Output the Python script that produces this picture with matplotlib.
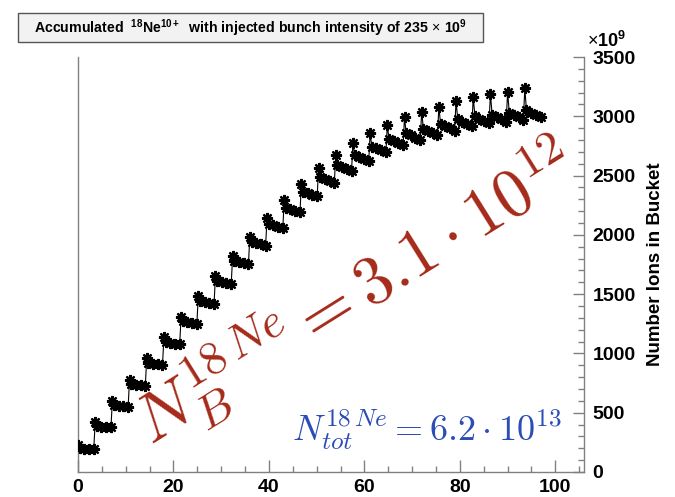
import numpy as np
import matplotlib.pyplot as plt
from matplotlib.patches import Rectangle
from matplotlib.ticker import MultipleLocator

plt.rcParams['font.family'] = ['Liberation Sans', 'DejaVu Sans']
plt.rcParams['mathtext.fontset'] = 'custom'
plt.rcParams['mathtext.rm'] = 'Liberation Sans'
plt.rcParams['mathtext.bf'] = 'Liberation Sans:bold'
plt.rcParams['mathtext.it'] = 'Liberation Sans:italic'

# injection times (s) and offsets of the points inside one cycle
t_inj = [0.0, 3.6, 7.2, 10.8, 14.4, 18.0, 21.6, 25.2, 28.8, 32.4, 36.0, 39.6, 43.2, 46.8,
         50.4, 54.0, 57.6, 61.2, 64.8, 68.4, 72.0, 75.6, 79.2, 82.8, 86.4, 90.0, 93.6]
t_off = [0.0, 0.35, 1.3, 2.3, 3.3]

# ions in bucket (x1e9): peak right after injection, then the stored band
peak = [225, 420, 600, 780, 960, 1135, 1310, 1485, 1655, 1825, 1985, 2140, 2290, 2430,
        2560, 2675, 2775, 2860, 2930, 2990, 3040, 3080, 3130, 3160, 3185, 3205, 3235]
band_1 = [200, 385, 562, 742, 918, 1095, 1270, 1445, 1615, 1780, 1940, 2090, 2230, 2365,
          2485, 2585, 2670, 2745, 2805, 2855, 2895, 2935, 2975, 3000, 3015, 3030, 3050]
band_2 = [197, 382, 558, 737, 913, 1089, 1263, 1437, 1606, 1771, 1930, 2079, 2218, 2352,
          2471, 2570, 2654, 2729, 2788, 2838, 2877, 2916, 2955, 2980, 2995, 3010, 3030]
band_3 = [195, 379, 554, 733, 907, 1083, 1256, 1429, 1597, 1761, 1919, 2067, 2205, 2338,
          2456, 2555, 2638, 2712, 2771, 2820, 2859, 2897, 2935, 2960, 2975, 2990, 3010]
band_4 = [193, 376, 550, 728, 902, 1077, 1249, 1421, 1588, 1751, 1908, 2055, 2192, 2324,
          2441, 2540, 2622, 2695, 2754, 2802, 2841, 2878, 2915, 2940, 2955, 2970, 2990]

x = []
y = []
for k in range(len(t_inj)):
    vals = [peak[k], band_1[k], band_2[k], band_3[k], band_4[k]]
    for o, v in zip(t_off, vals):
        x.append(t_inj[k] + o)
        y.append(v)

fig = plt.figure(figsize=(6.75, 4.97), dpi=100)
ax = fig.add_axes([78 / 675, 25 / 497, 506 / 675, 415 / 497])

ax.plot(x, y, color='black', lw=0.8, zorder=2)
ax.plot(x, y, ls='none', marker=(8, 2, 0), ms=8, mew=1.6, color='black', zorder=3)

ax.set_xlim(0, 106)
ax.set_ylim(0, 3500)
ax.xaxis.set_major_locator(MultipleLocator(20))
ax.xaxis.set_minor_locator(MultipleLocator(5))
ax.yaxis.set_major_locator(MultipleLocator(500))
ax.yaxis.set_minor_locator(MultipleLocator(100))

ax.spines['top'].set_visible(False)
for s in ['left', 'bottom', 'right']:
    ax.spines[s].set_color('#808080')
    ax.spines[s].set_linewidth(1.0)

ax.yaxis.tick_right()
ax.yaxis.set_label_position('right')
ax.tick_params(axis='both', which='both', direction='in', color='#808080', width=1.0)
ax.tick_params(axis='x', which='major', length=9, pad=5, labelsize=14)
ax.tick_params(axis='x', which='minor', length=4)
ax.tick_params(axis='y', which='major', length=8, pad=6, labelsize=14)
ax.tick_params(axis='y', which='minor', length=4)
for lab in ax.get_xticklabels() + ax.get_yticklabels():
    lab.set_fontweight('bold')

ax.set_ylabel('Number Ions in Bucket', fontsize=13.5, fontweight='bold', labelpad=8)

# title box
fig.patches.append(Rectangle((18 / 675, 1 - 42 / 497), 465 / 675, 29 / 497,
                             transform=fig.transFigure, facecolor='#f2f2f2',
                             edgecolor='#555555', lw=1.0))
fig.text(251 / 675, 1 - 28 / 497,
         r'Accumulated  $^{\mathbf{18}}\mathbf{Ne}^{\mathbf{10+}}$  with injected bunch intensity of 235$\,\times\,\mathbf{10}^{\mathbf{9}}$',
         ha='center', va='center', fontsize=10.2, fontweight='bold')

fig.text(587 / 675, 1 - 41 / 497, r'$\times\mathbf{10}^{\mathbf{9}}$', fontsize=13,
         ha='left', va='center')

# annotations
fig.text(152 / 675, 1 - 446 / 497, r'$N_B^{18\,Ne} = 3.1\cdot10^{12}$',
         fontsize=49, color='#a52a1a', rotation=32, rotation_mode='anchor',
         ha='left', va='baseline', math_fontfamily='cm')
fig.text(292 / 675, 1 - 441 / 497, r'$N_{tot}^{18\,Ne} = 6.2\cdot10^{13}$',
         fontsize=26, color='#2b4db5', ha='left', va='baseline', math_fontfamily='cm')

fig.savefig('out.png', dpi=100)
